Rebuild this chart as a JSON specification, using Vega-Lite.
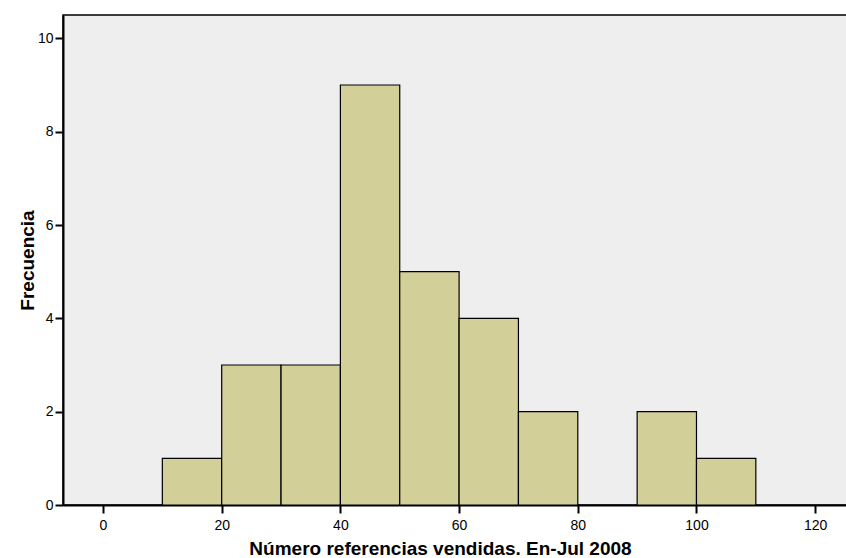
{
  "$schema": "https://vega.github.io/schema/vega-lite/v6.json",
  "width": 785,
  "height": 490,
  "autosize": {"type": "none"},
  "padding": {"left": 63, "top": 15, "right": 0, "bottom": 53},
  "background": "white",
  "config": {
    "view": {"fill": "#eeeeee", "stroke": "#000000", "strokeWidth": 1.5},
    "font": "Liberation Sans"
  },
  "data": {
    "values": [
      {"bin_start": 10, "bin_end": 20, "count": 1},
      {"bin_start": 20, "bin_end": 30, "count": 3},
      {"bin_start": 30, "bin_end": 40, "count": 3},
      {"bin_start": 40, "bin_end": 50, "count": 9},
      {"bin_start": 50, "bin_end": 60, "count": 5},
      {"bin_start": 60, "bin_end": 70, "count": 4},
      {"bin_start": 70, "bin_end": 80, "count": 2},
      {"bin_start": 90, "bin_end": 100, "count": 2},
      {"bin_start": 100, "bin_end": 110, "count": 1}
    ]
  },
  "mark": {"type": "rect", "fill": "#d3cf99", "stroke": "#000000", "strokeWidth": 1.2},
  "encoding": {
    "x": {
      "field": "bin_start",
      "type": "quantitative",
      "scale": {"domain": [-6.74, 125.53], "nice": false, "zero": false},
      "axis": {
        "title": "Número referencias vendidas. En-Jul 2008",
        "values": [0, 20, 40, 60, 80, 100, 120],
        "grid": false,
        "domainColor": "#000000",
        "domainWidth": 2,
        "tickColor": "#000000",
        "tickWidth": 2,
        "tickSize": 8,
        "labelPadding": 5,
        "labelFontSize": 14,
        "labelColor": "#000000",
        "titleFontSize": 19,
        "titleFontWeight": "bold",
        "titleColor": "#000000",
        "titleX": 377,
        "titleY": 49,
        "titleBaseline": "alphabetic",
        "titleAnchor": "middle"
      }
    },
    "x2": {"field": "bin_end"},
    "y": {
      "field": "count",
      "type": "quantitative",
      "scale": {"domain": [0, 10.5], "nice": false},
      "axis": {
        "title": "Frecuencia",
        "values": [0, 2, 4, 6, 8, 10],
        "grid": false,
        "domainColor": "#000000",
        "domainWidth": 2,
        "tickColor": "#000000",
        "tickWidth": 2,
        "tickSize": 8,
        "labelPadding": 2,
        "labelFontSize": 14,
        "labelColor": "#000000",
        "titleFontSize": 19,
        "titleFontWeight": "bold",
        "titleColor": "#000000",
        "titleX": -30,
        "titleY": 245,
        "titleAngle": -90,
        "titleBaseline": "alphabetic",
        "titleAnchor": "middle"
      }
    },
    "y2": {"datum": 0}
  }
}
